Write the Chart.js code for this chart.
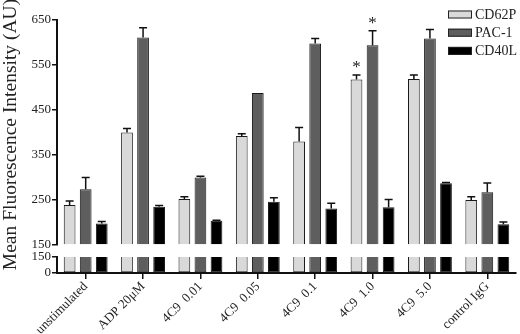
<!DOCTYPE html>
<html>
<head>
<meta charset="utf-8">
<script src="https://cdn.jsdelivr.net/npm/chart.js@4"></script>
<style>
  body { margin: 0; background: #fff; }
  #wrap { position: relative; width: 520px; height: 334px; }
  canvas { display: block; }
</style>
</head>
<body>
<div id="wrap">
  <canvas id="flowChart" width="520" height="334"></canvas>
</div>
<script>
// data (mean fluorescence, AU)
var categories = ["unstimulated", "ADP 20\u03bcM", "4C9  0.01", "4C9  0.05", "4C9  0.1", "4C9  1.0", "4C9  5.0", "control IgG"];
var seriesNames = ["CD62P", "PAC-1", "CD40L"];
var cd62p = [239, 400, 252, 392, 380, 518, 519, 250];
var cd62pErr = [9, 9, 5, 5, 31, 10, 9, 7];
var pac1 = [274, 611, 300, 488, 598, 594, 609, 267];
var pac1Err = [26, 22, 3, 0, 11, 32, 20, 21];
var cd40l = [198, 235, 204, 246, 231, 234, 287, 196];
var cd40lErr = [4, 3, 1, 9, 12, 17, 2, 5];
// significance marks: [series index, category index]
var stars = [[0, 5], [1, 5]];
// axis break
var breakAt = 150;
var upperTicks = [150, 650, 100];   // min, max, step
var lowerTicks = [0, 150, 150];
var yTitle = 'Mean Fluorescence Intensity (AU)';

var seriesValues = [cd62p, pac1, cd40l];
var seriesErrors = [cd62pErr, pac1Err, cd40lErr];
var fills = ['#d9d9d9', '#5e5e5e', '#000000'];
var serif = '"Liberation Serif", "Times New Roman", serif';

var datasets = [];
// upper part of the broken axis
seriesNames.forEach(function (name, s) {
    datasets.push({
        label: name,
        data: seriesValues[s],
        yAxisID: 'y',
        stack: name,
        base: breakAt,
        backgroundColor: fills[s],
        borderColor: '#1a1a1a',
        borderWidth: 1,
        borderSkipped: 'bottom'
    });
});
// lower part, 0 .. breakAt
seriesNames.forEach(function (name, s) {
    datasets.push({
        label: name + ' (low)',
        data: seriesValues[s].map(function (v) { return Math.min(v, breakAt); }),
        yAxisID: 'yLow',
        stack: name,
        backgroundColor: fills[s],
        borderColor: '#1a1a1a',
        borderWidth: 1,
        borderSkipped: 'top'
    });
});

var errorBars = {
    id: 'errorBars',
    afterDatasetsDraw: function (chart) {
        var ctx = chart.ctx;
        var yScale = chart.scales.y;
        ctx.save();
        ctx.strokeStyle = '#111';
        ctx.lineWidth = 1.5;
        for (var s = 0; s < seriesValues.length; s++) {
            var meta = chart.getDatasetMeta(s);
            for (var i = 0; i < categories.length; i++) {
                var err = seriesErrors[s][i];
                if (!err) continue;
                var bar = meta.data[i];
                var top = yScale.getPixelForValue(seriesValues[s][i] + err);
                ctx.beginPath();
                ctx.moveTo(bar.x, bar.y);
                ctx.lineTo(bar.x, top);
                ctx.moveTo(bar.x - 4, top);
                ctx.lineTo(bar.x + 4, top);
                ctx.stroke();
            }
        }
        ctx.fillStyle = '#222';
        ctx.font = '17px ' + serif;
        ctx.textAlign = 'center';
        ctx.textBaseline = 'alphabetic';
        stars.forEach(function (st) {
            var s = st[0], i = st[1];
            var bar = chart.getDatasetMeta(s).data[i];
            var top = yScale.getPixelForValue(seriesValues[s][i] + seriesErrors[s][i]);
            ctx.fillText('*', bar.x, top - 3);
        });
        ctx.restore();
    }
};

// boxed legend in the top right corner, and the vertical axis title
var chartText = {
    id: 'chartText',
    afterDraw: function (chart) {
        var ctx = chart.ctx;
        ctx.save();
        ctx.font = '14px ' + serif;
        ctx.textAlign = 'left';
        ctx.textBaseline = 'middle';
        ctx.lineWidth = 1;
        ctx.strokeStyle = '#222';
        seriesNames.forEach(function (name, s) {
            var cy = 14.5 + s * 18.2;
            ctx.fillStyle = fills[s];
            ctx.fillRect(448, cy - 4, 24, 8);
            ctx.strokeRect(448.5, cy - 3.5, 23, 7);
            ctx.fillStyle = '#222';
            ctx.fillText(name, 475, cy + 0.5);
        });
        ctx.restore();

        var ys = chart.scales.y;
        ctx.save();
        ctx.font = '19.5px ' + serif;
        ctx.fillStyle = '#222';
        ctx.textAlign = 'center';
        ctx.textBaseline = 'middle';
        ctx.translate(11, (ys.top + ys.bottom) / 2 + 2);
        ctx.rotate(-Math.PI / 2);
        ctx.fillText(yTitle, 0, 0);
        ctx.restore();
    }
};

var tickFont = { family: serif, size: 13 };
var fixWidth = function (scale) { scale.width = 57; };

var chart = new Chart(document.getElementById('flowChart'), {
    type: 'bar',
    data: { labels: categories, datasets: datasets },
    plugins: [errorBars, chartText],
    options: {
        responsive: false,
        animation: false,
        datasets: { bar: { barPercentage: 0.73, categoryPercentage: 0.84 } },
        layout: { padding: { top: 20, right: 4, left: 0, bottom: 0 } },
        plugins: { legend: { display: false }, tooltip: { enabled: false } },
        scales: {
            x: {
                grid: { drawOnChartArea: false, offset: false, tickLength: 6, color: '#111', lineWidth: 1.5 },
                border: { color: '#111', width: 2 },
                ticks: { font: tickFont, color: '#222', minRotation: 45, maxRotation: 45, autoSkip: false, padding: 0 },
                afterFit: function (scale) { scale.height = 61; }
            },
            y: {
                position: 'left',
                stack: 'broken',
                stackWeight: 225,
                weight: 3,
                min: upperTicks[0],
                max: upperTicks[1],
                ticks: { stepSize: upperTicks[2], font: tickFont, color: '#222', padding: 1 },
                grid: { drawOnChartArea: false, tickLength: 5, color: '#111', lineWidth: 1.5 },
                border: { color: '#111', width: 2 },
                afterFit: fixWidth
            },
            gap: {
                type: 'linear',
                position: 'left',
                stack: 'broken',
                stackWeight: 12,
                weight: 2,
                min: 0,
                max: 1,
                ticks: { display: false },
                grid: { display: false },
                border: { display: false },
                afterFit: fixWidth
            },
            yLow: {
                type: 'linear',
                position: 'left',
                stack: 'broken',
                stackWeight: 16,
                weight: 1,
                min: lowerTicks[0],
                max: lowerTicks[1],
                ticks: { stepSize: lowerTicks[2], font: tickFont, color: '#222', padding: 1, autoSkip: false },
                grid: { drawOnChartArea: false, tickLength: 5, color: '#111', lineWidth: 1.5 },
                border: { color: '#111', width: 2 },
                afterFit: fixWidth
            }
        }
    }
});
</script>
</body>
</html>
